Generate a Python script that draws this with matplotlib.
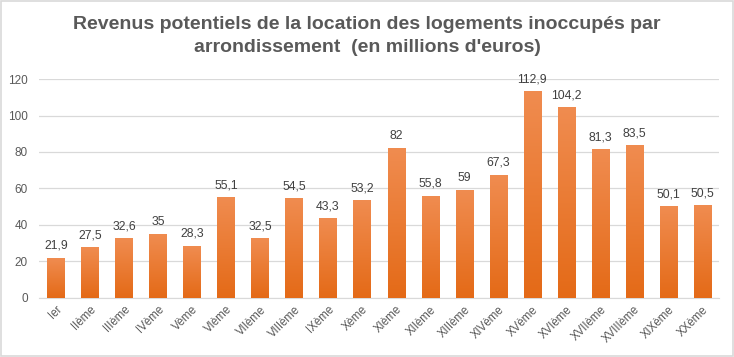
import numpy as np
import matplotlib
matplotlib.use("Agg")
from matplotlib import pyplot as plt
from matplotlib.patches import Rectangle
from matplotlib.colors import LinearSegmentedColormap

categories = ["Ier", "IIème", "IIIème", "IVème", "Vème", "VIème", "VIIème", "VIIIème",
              "IXème", "Xème", "XIème", "XIIème", "XIIIème", "XIVème", "XVème", "XVIème",
              "XVIIème", "XVIIIème", "XIXème", "XXème"]
values = [21.9, 27.5, 32.6, 35, 28.3, 55.1, 32.5, 54.5, 43.3, 53.2,
          82, 55.8, 59, 67.3, 112.9, 104.2, 81.3, 83.5, 50.1, 50.5]
labels = ["21,9", "27,5", "32,6", "35", "28,3", "55,1", "32,5", "54,5", "43,3", "53,2",
          "82", "55,8", "59", "67,3", "112,9", "104,2", "81,3", "83,5", "50,1", "50,5"]
yticks = [0, 20, 40, 60, 80, 100, 120]

fig = plt.figure(figsize=(7.34, 3.57), dpi=100)
fig.patches.append(Rectangle((0.001, 0.002), 0.997, 0.995, transform=fig.transFigure,
                             fill=False, edgecolor="#D9D9D9", linewidth=1.2))
ax = fig.add_axes([0.0531, 0.1653, 0.9265, 0.6134])

x = np.arange(len(values))
bars = ax.bar(x, values, width=0.5, color="none", zorder=3)
cmap = LinearSegmentedColormap.from_list("org", ["#E46A17", "#F08C50"])
grad = np.linspace(0, 1, 256).reshape(-1, 1)
for b in bars:
    x0 = b.get_x()
    ax.imshow(grad, cmap=cmap, origin="lower", aspect="auto", zorder=3,
              extent=[x0, x0 + b.get_width(), 0, b.get_height()])
for xi, v, lab in zip(x, values, labels):
    ax.text(xi, v + 3.5, lab, ha="center", va="bottom", fontsize=8.8, color="#404040",
            family="Liberation Sans")

ax.set_xlim(-0.5, len(values) - 0.5)
ax.set_ylim(0, 120)
ax.set_yticks(yticks)
ax.set_xticks(x)
ax.set_xticklabels(categories, rotation=45, ha="right", rotation_mode="anchor",
                   fontsize=8.3, color="#595959", family="Liberation Sans")
ax.tick_params(axis="y", labelsize=8.5, labelcolor="#595959", length=0, pad=8)
for t in ax.get_yticklabels():
    t.set_family("Liberation Sans")
ax.tick_params(axis="x", length=0, pad=4)
ax.grid(axis="y", color="#D9D9D9", linewidth=0.9, zorder=0)
ax.set_axisbelow(True)
for s in ["top", "right", "left"]:
    ax.spines[s].set_visible(False)
ax.spines["bottom"].set_color("#D9D9D9")

fig.text(0.5, 0.9, "Revenus potentiels de la location des logements inoccupés par\narrondissement  (en millions d'euros)",
         ha="center", va="center", fontsize=14, fontweight="bold", color="#595959",
         linespacing=1.45, family=["Liberation Sans", "DejaVu Sans"])

fig.savefig("out.png", dpi=100)
